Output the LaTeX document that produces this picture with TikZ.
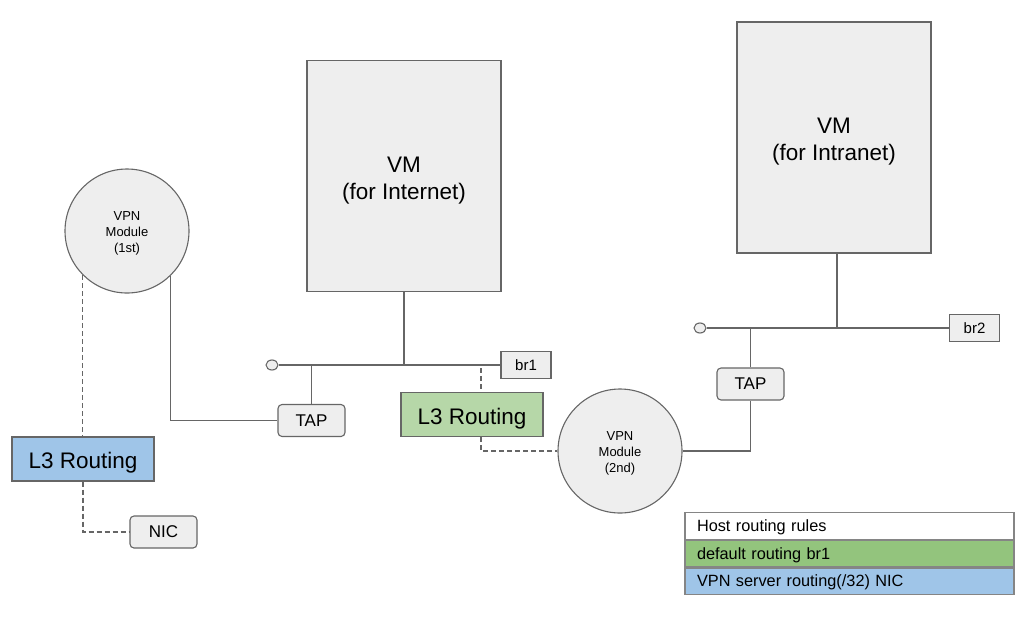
\documentclass[tikz,border=0pt]{standalone}
\usepackage{fontspec}
\setmainfont{Liberation Sans}
\usetikzlibrary{shapes.geometric}
\definecolor{linegray}{HTML}{666666}
\definecolor{boxgray}{HTML}{EEEEEE}
\definecolor{routeblue}{HTML}{9FC5E8}
\definecolor{routegreen}{HTML}{B6D7A8}
\definecolor{rulegreen}{HTML}{93C47D}
\begin{document}
\begin{tikzpicture}[x=1pt, y=-1pt,
            box/.style={rectangle, draw=linegray, fill=boxgray, line width=1.1pt, inner sep=0pt, align=center},
            vmbox/.style={box, minimum width=194pt, minimum height=231pt, text height=51.5pt, font=\fontsize{22.5}{27}\selectfont},
            vpn/.style={circle, draw=linegray, fill=boxgray, line width=1.1pt, minimum size=124pt, inner sep=0pt, align=center, text height=45.5pt, font=\fontsize{13}{16}\selectfont},
            tapbox/.style={box, rounded corners=4pt, minimum width=67pt, minimum height=32pt, font=\fontsize{17}{20}\selectfont},
            brbox/.style={box, minimum width=50pt, minimum height=27pt, font=\fontsize{15}{18}\selectfont},
            routing/.style={box, minimum width=142pt, minimum height=44pt, text height=24pt, font=\fontsize{22.5}{27}\selectfont},
            endpt/.style={ellipse, draw=linegray, fill=boxgray, line width=1.1pt, minimum width=12pt, minimum height=10pt, inner sep=0pt},
            rule/.style={rectangle, draw=linegray!80, line width=1.1pt, inner xsep=12pt, inner ysep=0pt, text width=305pt, align=left, minimum height=26.5pt, text height=14pt, text depth=3pt, font=\fontsize{16.3}{19}\selectfont},
            link/.style={draw=linegray, line width=1.1pt},
            dashlink/.style={link, dash pattern=on 5pt off 3pt}
        ]
            \useasboundingbox (0,0) rectangle (1036,622);

            % VMs
            \node[vmbox] (vminet) at (404,176) {VM\\(for Internet)};
            \node[vmbox] (vmintra) at (834,137.5) {VM\\(for Intranet)};

            % VPN modules
            \node[vpn] (vpn1) at (127,231) {VPN\\Module\\(1st)};
            \node[vpn] (vpn2) at (620,451) {VPN\\Module\\(2nd)};

            % TAP devices and NIC
            \node[tapbox] (tap1) at (311.5,420.5) {TAP};
            \node[tapbox] (tap2) at (750.5,384) {TAP};
            \node[tapbox] (nic) at (163.5,532) {NIC};

            % Bridges
            \node[endpt] (end1) at (272,365) {};
            \node[brbox] (br1) at (526,365) {br1};
            \node[endpt] (end2) at (700,328) {};
            \node[brbox] (br2) at (974.5,328) {br2};
            \coordinate (br1tap) at (481,368);

            % L3 Routing
            \node[routing, fill=routeblue] (l3nic) at (83,459) {L3 Routing};
            \node[routing, fill=routegreen] (l3br) at (472,414.5) {L3 Routing};

            % Host routing rules
            \node[rule, fill=white] (rulehead) at (849.5,526) {Host routing rules};
            \node[rule, fill=rulegreen, anchor=north] (ruledef) at (rulehead.south) {default routing br1};
            \node[rule, fill=routeblue, anchor=north] (rulevpn) at (ruledef.south) {VPN server routing(/32) NIC};

            % Connections
            \draw[link] (end1.east) -- (br1.west);
            \draw[link] (vminet.south) -- (vminet.south |- end1);
            \draw[link] (tap1.north) -- (tap1.north |- end1);
            \draw[link] (vpn1.-46) |- (tap1.west);
            \draw[link] (end2.east) -- (br2.west);
            \draw[link] ([xshift=3pt]vmintra.south) -- ([xshift=3pt]vmintra.south |- end2);
            \draw[link] (tap2.north) -- (tap2.north |- end2);
            \draw[link] (tap2.south) |- (vpn2.east);
            \draw[dashlink] (vpn1.-135) -- (vpn1.-135 |- l3nic.north);
            \draw[dashlink] (l3nic.south) |- (nic.west);
            \draw[dashlink] (br1tap) -- (br1tap |- l3br.north);
            \draw[dashlink] (br1tap |- l3br.south) |- (vpn2.west);

        \end{tikzpicture}
\end{document}
